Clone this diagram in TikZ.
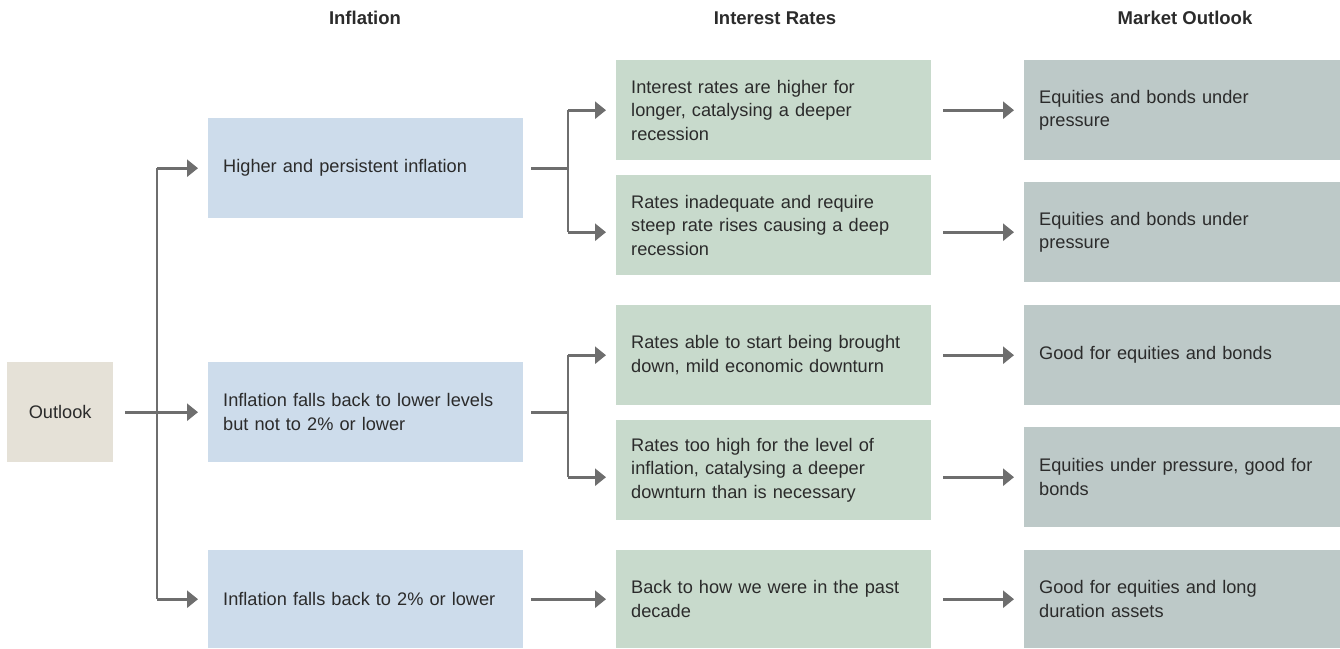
\documentclass[tikz,border=0pt]{standalone}
\usepackage{fontspec}
\setmainfont{Liberation Sans}
\usetikzlibrary{arrows.meta,calc}
\definecolor{txt}{HTML}{2B2B2B}
\definecolor{conn}{HTML}{6E6E6E}
\definecolor{cout}{HTML}{E5E1D7}
\definecolor{cinf}{HTML}{CDDCEB}
\definecolor{cint}{HTML}{C8DACC}
\definecolor{cmkt}{HTML}{BDC9C8}
\tikzset{
  base/.style={anchor=north west, inner ysep=0pt, inner xsep=15pt, align=left,
    text=txt, font=\fontsize{18.2}{23.5}\selectfont, minimum height=100pt},
  infbox/.style={base, fill=cinf, text width=285pt},
  intbox/.style={base, fill=cint, text width=285pt},
  mktbox/.style={base, fill=cmkt, text width=286pt},
  outbox/.style={anchor=north west, inner sep=0pt, fill=cout, text=txt,
    minimum width=106pt, minimum height=100pt, align=center,
    font=\fontsize{18.2}{23.5}\selectfont},
  head/.style={text=txt, font=\fontsize{18.5}{20}\selectfont\bfseries},
  line/.style={draw=conn, line width=2.7pt},
  arr/.style={line, -{Triangle[length=11pt,width=17pt]}, shorten >=10pt},
}
\begin{document}
\begin{tikzpicture}[x=1pt,y=-1pt]
\useasboundingbox (0,0) rectangle (1340,648);
% headers
\node[head] (h1) at (365,18) {Inflation};
\node[head] (h2) at (775,18) {Interest Rates};
\node[head] (h3) at (1185,18) {Market Outlook};
% boxes
\node[outbox] (out) at (7,362) {Outlook};
\node[infbox] (inf1) at (208,118) {Higher and persistent inflation};
\node[infbox] (inf2) at (208,362) {Inflation falls back to lower levels\\but not to 2\% or lower};
\node[infbox, minimum height=98pt] (inf3) at (208,550) {Inflation falls back to 2\% or lower};
\node[intbox] (int1) at (616,60) {Interest rates are higher for\\longer, catalysing a deeper\\recession};
\node[intbox] (int2) at (616,175) {Rates inadequate and require\\steep rate rises causing a deep\\recession};
\node[intbox] (int3) at (616,305) {Rates able to start being brought\\down, mild economic downturn};
\node[intbox] (int4) at (616,420) {Rates too high for the level of\\inflation, catalysing a deeper\\downturn than is necessary};
\node[intbox, minimum height=98pt] (int5) at (616,550) {Back to how we were in the past\\decade};
\node[mktbox] (mk1) at (1024,60) {Equities and bonds under\\pressure};
\node[mktbox] (mk2) at (1024,182) {Equities and bonds under\\pressure};
\node[mktbox] (mk3) at (1024,305) {Good for equities and bonds};
\node[mktbox] (mk4) at (1024,427) {Equities under pressure, good for\\bonds};
\node[mktbox, minimum height=98pt] (mk5) at (1024,550) {Good for equities and long\\duration assets};
% junctions
\coordinate (j0) at (157,0);
\coordinate (j1) at (568,0);
% outlook
\draw[arr, shorten <=12pt] (out.east) -- (inf2.west);
\draw[line] (j0 |- inf1.west) -- (j0 |- inf3.west);
\draw[arr] (j0 |- inf1.west) -- (inf1.west);
\draw[arr] (j0 |- inf3.west) -- (inf3.west);
% inflation 1
\draw[line, shorten <=8pt] (inf1.east) -- (j1 |- inf1.east);
\draw[line] (j1 |- int1.west) -- (j1 |- mk2.west);
\draw[arr] (j1 |- int1.west) -- (int1.west);
\draw[arr] (j1 |- mk2.west) -- (int2.west |- mk2.west);
% inflation 2
\draw[line, shorten <=8pt] (inf2.east) -- (j1 |- inf2.east);
\draw[line] (j1 |- int3.west) -- (j1 |- mk4.west);
\draw[arr] (j1 |- int3.west) -- (int3.west);
\draw[arr] (j1 |- mk4.west) -- (int4.west |- mk4.west);
% inflation 3
\draw[arr, shorten <=8pt] (inf3.east) -- (int5.west);
% interest to market
\draw[arr, shorten <=12pt] (int1.east) -- (mk1.west);
\draw[arr, shorten <=12pt] (int2.east |- mk2.west) -- (mk2.west);
\draw[arr, shorten <=12pt] (int3.east) -- (mk3.west);
\draw[arr, shorten <=12pt] (int4.east |- mk4.west) -- (mk4.west);
\draw[arr, shorten <=12pt] (int5.east) -- (mk5.west);
\end{tikzpicture}
\end{document}
